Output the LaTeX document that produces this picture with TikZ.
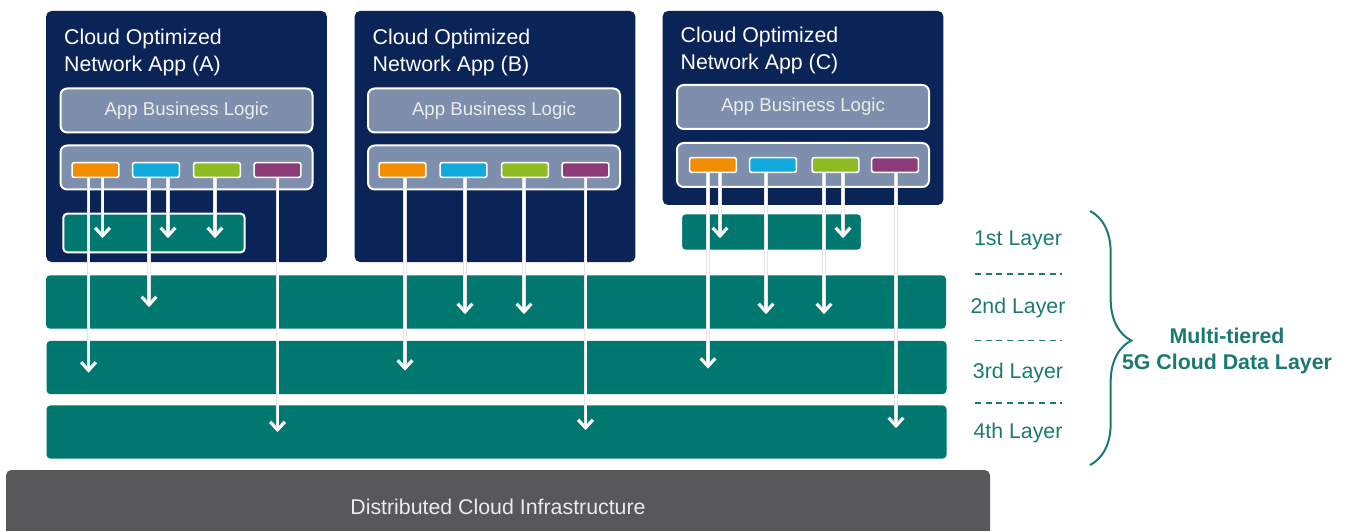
\documentclass[tikz,border=0pt]{standalone}
\usepackage{fontspec}
\setmainfont{Liberation Sans}
\usetikzlibrary{calc,arrows.meta,decorations.pathreplacing}

\definecolor{appnavy}{HTML}{0B2458}
\definecolor{layerteal}{HTML}{00776F}
\definecolor{logicgray}{HTML}{7E8FAD}
\definecolor{infragray}{HTML}{58585B}
\definecolor{labelteal}{HTML}{1A7A71}
\definecolor{portorange}{HTML}{F28C00}
\definecolor{portblue}{HTML}{12A9DC}
\definecolor{portgreen}{HTML}{8DBB21}
\definecolor{portpurple}{HTML}{8C3B78}

\begin{document}
\begin{tikzpicture}[x=0.75pt,y=-0.75pt]
    \tikzstyle{app} = [rectangle,fill=appnavy,rounded corners=4pt,minimum width=210.5pt,minimum height=188.25pt];
    \tikzstyle{apptitle} = [anchor=north west,inner sep=0pt,align=left,text=white,font=\fontsize{16}{20}\selectfont];
    \tikzstyle{logic} = [rectangle,draw=white,line width=1.5pt,fill=logicgray,rounded corners=5pt,minimum width=189pt,minimum height=33pt,text=white!92!black,font=\fontsize{14}{16}\selectfont];
    \tikzstyle{slot} = [rectangle,draw=white,line width=1.2pt,rounded corners=1.5pt,minimum width=35pt,minimum height=11pt,inner sep=0pt];
    \tikzstyle{layer} = [rectangle,fill=layerteal,rounded corners=3pt,minimum width=675pt,minimum height=40pt];
    \tikzstyle{sublayer} = [layer,draw=white,line width=1.5pt,minimum width=136pt,minimum height=29pt];
    \tikzstyle{infra} = [rectangle,fill=infragray,rounded corners=4pt,minimum width=738pt,minimum height=55.5pt,text=white!92!black,font=\fontsize{16}{18}\selectfont];
    \tikzstyle{flow} = [draw=white,line width=1.5pt,-{Straight Barb[length=6pt,width=11pt]},preaction={draw=black!10,line width=2.4pt}];
    \tikzstyle{laylabel} = [text=labelteal,font=\fontsize{16}{18}\selectfont];
    \tikzstyle{sep} = [draw=labelteal,line width=1.2pt,dash pattern=on 4.5pt off 3.5pt];
    \tikzstyle{tierbrace} = [draw=labelteal,line width=1.5pt,decorate,decoration={brace,amplitude=31pt,aspect=0.51}];

    \useasboundingbox (0,0) rectangle (1349,531);

    % network apps
    \node[app,name=appA] at (186.5,136.5) {};
    \node[app,name=appB] at (495,136.5) {};
    \node[app,name=appC,minimum height=145.5pt] at (803,108) {};

    \node[apptitle,name=titleA] at ($(appA.north west)+(18,18)$) {Cloud Optimized\\Network App (A)};
    \node[apptitle,name=titleB] at ($(appB.north west)+(18,18)$) {Cloud Optimized\\Network App (B)};
    \node[apptitle,name=titleC] at ($(appC.north west)+(18,16)$) {Cloud Optimized\\Network App (C)};

    \node[logic,name=logicA] at (186.5,110.5) {App Business Logic};
    \node[logic,name=logicB] at (494,110.5) {App Business Logic};
    \node[logic,name=logicC] at (803,107) {App Business Logic};

    \node[logic,name=portsA] at (186.5,167.5) {};
    \node[logic,name=portsB] at (494,167.5) {};
    \node[logic,name=portsC] at (803,165) {};

    \node[slot,fill=portorange,name=orangeA] at ($(portsA)+(-91,2.5)$) {};
    \node[slot,fill=portblue,name=blueA] at ($(portsA)+(-30.5,2.5)$) {};
    \node[slot,fill=portgreen,name=greenA] at ($(portsA)+(30.5,2.5)$) {};
    \node[slot,fill=portpurple,name=purpleA] at ($(portsA)+(91,2.5)$) {};

    \node[slot,fill=portorange,name=orangeB] at ($(portsB)+(-91.5,2.5)$) {};
    \node[slot,fill=portblue,name=blueB] at ($(portsB)+(-30.5,2.5)$) {};
    \node[slot,fill=portgreen,name=greenB] at ($(portsB)+(31,2.5)$) {};
    \node[slot,fill=portpurple,name=purpleB] at ($(portsB)+(91.5,2.5)$) {};

    \node[slot,fill=portorange,name=orangeC] at ($(portsC)+(-90,0)$) {};
    \node[slot,fill=portblue,name=blueC] at ($(portsC)+(-30,0)$) {};
    \node[slot,fill=portgreen,name=greenC] at ($(portsC)+(32.5,0)$) {};
    \node[slot,fill=portpurple,name=purpleC] at ($(portsC)+(92,0)$) {};

    % data layers
    \node[sublayer,name=layerA1] at (154,233) {};
    \node[sublayer,name=layerC1,minimum width=135.5pt,minimum height=28pt] at (771.5,232) {};
    \node[layer,name=layer2] at (496,302) {};
    \node[layer,name=layer3] at (496.5,367.5) {};
    \node[layer,name=layer4] at (496.5,432) {};
    \node[infra,name=infra,text depth=0pt] at (498,507) {Distributed Cloud Infrastructure};

    % flows
    \draw[flow] ($(orangeA.south)+(-7,0)$) -- ($(orangeA.south |- layer3.center)+(-7,5)$);
    \draw[flow] ($(orangeA.south)+(7,0)$) -- ($(orangeA.south |- layerA1.center)+(7,5)$);
    \draw[flow] ($(blueA.south)+(-7,0)$) -- ($(blueA.south |- layer2.center)+(-7,5)$);
    \draw[flow] ($(blueA.south)+(12,0)$) -- ($(blueA.south |- layerA1.center)+(12,5)$);
    \draw[flow] ($(greenA.south)+(-2,0)$) -- ($(greenA.south |- layerA1.center)+(-2,5)$);
    \draw[flow] (purpleA.south) -- ($(purpleA.south |- layer4.center)+(0,0)$);

    \draw[flow] ($(orangeB.south)+(2.5,0)$) -- ($(orangeB.south |- layer3.center)+(2.5,3)$);
    \draw[flow] ($(blueB.south)+(1.5,0)$) -- ($(blueB.south |- layer2.center)+(1.5,12)$);
    \draw[flow] ($(greenB.south)+(-1,0)$) -- ($(greenB.south |- layer2.center)+(-1,12)$);
    \draw[flow] (purpleB.south) -- ($(purpleB.south |- layer4.center)+(0,-2)$);

    \draw[flow] ($(orangeC.south)+(-5,0)$) -- ($(orangeC.south |- layer3.center)+(-5,1)$);
    \draw[flow] ($(orangeC.south)+(7,0)$) -- ($(orangeC.south |- layerC1.center)+(7,6)$);
    \draw[flow] ($(blueC.south)+(-7,0)$) -- ($(blueC.south |- layer2.center)+(-7,12)$);
    \draw[flow] ($(greenC.south)+(-11.5,0)$) -- ($(greenC.south |- layer2.center)+(-11.5,12)$);
    \draw[flow] ($(greenC.south)+(7.5,0)$) -- ($(greenC.south |- layerC1.center)+(7.5,6)$);
    \draw[flow] ($(purpleC.south)+(1,0)$) -- ($(purpleC.south |- layer4.center)+(1,-4)$);

    % key on the right
    \node[laylabel,name=lab1] at (1018,240) {1st Layer};
    \node[laylabel,name=lab2] at (1018,308) {2nd Layer};
    \node[laylabel,name=lab3] at (1018,373) {3rd Layer};
    \node[laylabel,name=lab4] at (1018,433) {4th Layer};

    \draw[sep] ($(lab1)!.5!(lab2)+(-43,0)$) -- ($(lab1)!.5!(lab2)+(44,0)$);
    \draw[sep] ($(lab2)!.5!(lab3)+(-43,0)$) -- ($(lab2)!.5!(lab3)+(44,0)$);
    \draw[sep] ($(lab3)!.5!(lab4)+(-43,0)$) -- ($(lab3)!.5!(lab4)+(44,0)$);

    \coordinate (braceTop) at (1090,211);
    \coordinate (braceBot) at (1090,465);
    \draw[tierbrace] (braceTop) -- (braceBot);

    \node[laylabel,name=tiers,align=center,font=\bfseries\fontsize{16}{19}\selectfont] at (1227,351) {Multi-tiered\\5G Cloud Data Layer};

  \end{tikzpicture}
\end{document}
